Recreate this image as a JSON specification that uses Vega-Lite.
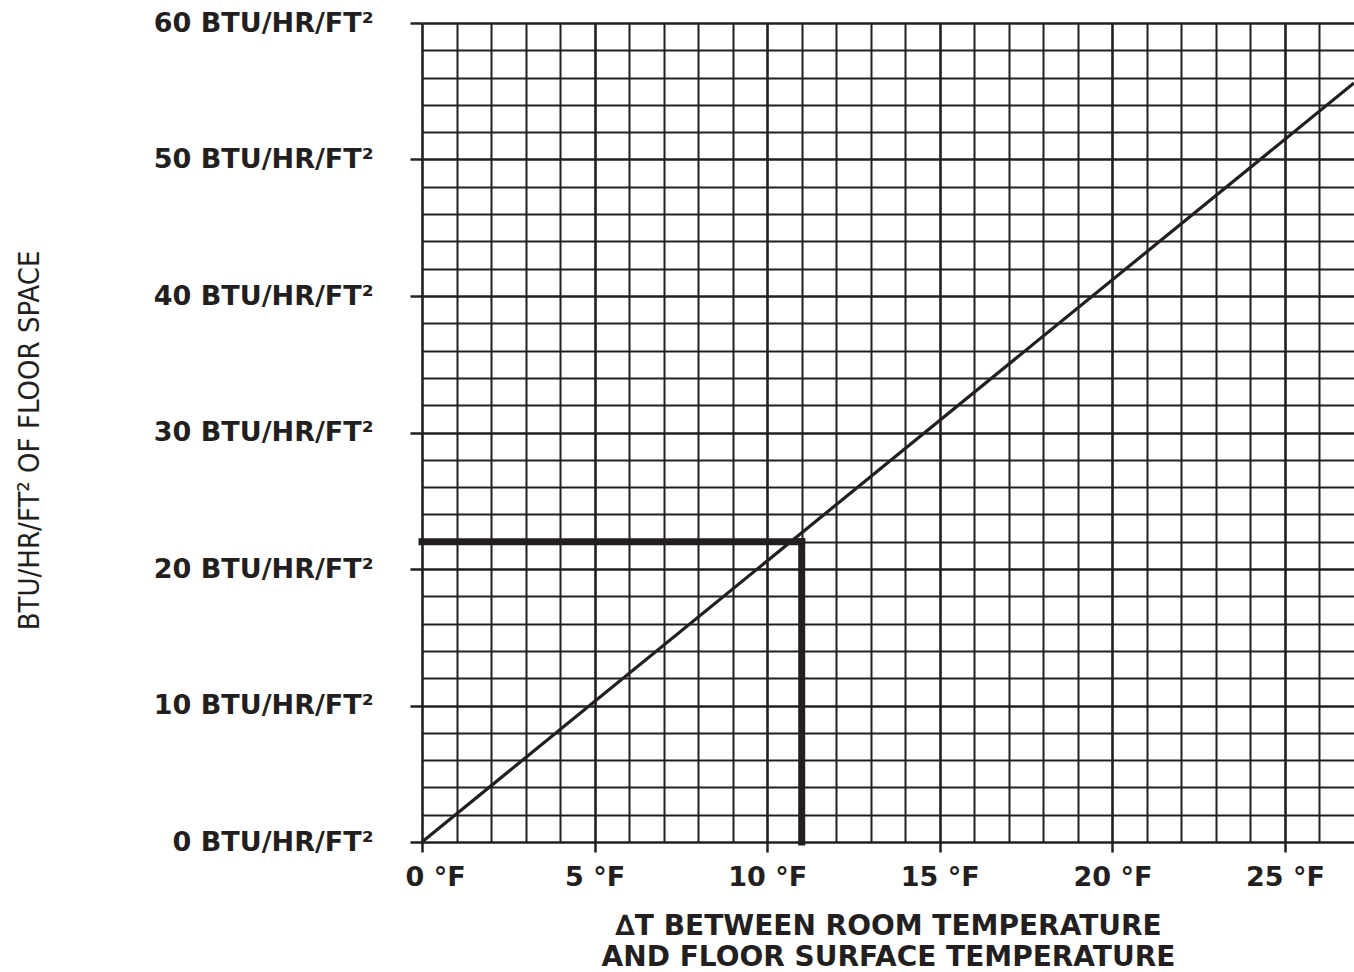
{
  "$schema": "https://vega.github.io/schema/vega-lite/v6.json",
  "description": "Heat output of floor space versus temperature difference between room and floor surface.",
  "width": 932,
  "height": 819,
  "autosize": {"type": "none"},
  "padding": {"left": 422, "top": 23, "right": 0, "bottom": 130},
  "background": "white",
  "config": {"view": {"stroke": null}},
  "layer": [
    {
      "data": {"values": [{"dt": 0, "btu": 0}, {"dt": 27, "btu": 55.6}]},
      "mark": {"type": "line", "color": "#231f20", "strokeWidth": 3.2},
      "encoding": {
        "x": {
          "field": "dt",
          "type": "quantitative",
          "title": ["∆T BETWEEN ROOM TEMPERATURE", "AND FLOOR SURFACE TEMPERATURE"],
          "scale": {"domain": [0, 27], "nice": false},
          "axis": {
            "values": [0, 1, 2, 3, 4, 5, 6, 7, 8, 9, 10, 11, 12, 13, 14, 15, 16, 17, 18, 19, 20, 21, 22, 23, 24, 25, 26],
            "tickCount": 100,
            "labelExpr": "datum.value % 5 === 0 ? datum.value + ' °F' : ''",
            "labelFlush": true,
            "labelFlushOffset": 17,
            "labelOverlap": false,
            "labelLimit": 0,
            "labelFont": "DejaVu Sans",
            "labelFontWeight": "bold",
            "labelFontSize": 27,
            "labelColor": "#231f20",
            "labelPadding": 12,
            "tickSize": 10,
            "tickWidth": 2.5,
            "tickColor": "#231f20",
            "tickOpacity": {"condition": {"test": "datum.value % 5 === 0", "value": 1}, "value": 0},
            "domain": false,
            "grid": true,
            "gridColor": "#231f20",
            "gridOpacity": 1,
            "gridWidth": {"condition": {"test": "datum.value % 5 === 0", "value": 2.6}, "value": 2},
            "titleFont": "DejaVu Sans",
            "titleFontWeight": "bold",
            "titleFontSize": 28,
            "titleColor": "#231f20",
            "titleLineHeight": 31,
            "titleLimit": 0,
            "titleX": 466,
            "titleY": 70
          }
        },
        "y": {
          "field": "btu",
          "type": "quantitative",
          "title": "BTU/HR/FT² OF FLOOR SPACE",
          "scale": {"domain": [0, 60], "nice": false},
          "axis": {
            "values": [0, 2, 4, 6, 8, 10, 12, 14, 16, 18, 20, 22, 24, 26, 28, 30, 32, 34, 36, 38, 40, 42, 44, 46, 48, 50, 52, 54, 56, 58, 60],
            "tickCount": 100,
            "labelExpr": "datum.value % 10 === 0 ? datum.value + ' BTU/HR/FT²' : ''",
            "labelOverlap": false,
            "labelLimit": 0,
            "labelFont": "DejaVu Sans",
            "labelFontWeight": "bold",
            "labelFontSize": 27,
            "labelColor": "#231f20",
            "labelPadding": 37,
            "tickSize": 12,
            "tickWidth": 2.5,
            "tickColor": "#231f20",
            "tickOpacity": {"condition": {"test": "datum.value % 10 === 0", "value": 1}, "value": 0},
            "domain": false,
            "grid": true,
            "gridColor": "#231f20",
            "gridOpacity": 1,
            "gridWidth": {"condition": {"test": "datum.value % 10 === 0", "value": 2.6}, "value": 2},
            "titleFont": "Liberation Sans Narrow, DejaVu Sans Condensed, Liberation Sans, sans-serif",
            "titleFontWeight": "normal",
            "titleFontSize": 29,
            "titleColor": "#231f20",
            "titleLimit": 0,
            "titleAngle": -90,
            "titleAlign": "center",
            "titleBaseline": "bottom",
            "titleX": -378,
            "titleY": 417
          }
        }
      }
    },
    {
      "data": {
        "values": [
          {"dt": 0, "dt_end": 11, "btu": 22, "btu_end": 22},
          {"dt": 11, "dt_end": 11, "btu": 0, "btu_end": 22}
        ]
      },
      "mark": {"type": "rule", "color": "#231f20", "strokeWidth": 7, "strokeCap": "square"},
      "encoding": {
        "x": {"field": "dt", "type": "quantitative", "title": ["∆T BETWEEN ROOM TEMPERATURE", "AND FLOOR SURFACE TEMPERATURE"]},
        "x2": {"field": "dt_end"},
        "y": {"field": "btu", "type": "quantitative", "title": "BTU/HR/FT² OF FLOOR SPACE"},
        "y2": {"field": "btu_end"}
      }
    }
  ]
}
